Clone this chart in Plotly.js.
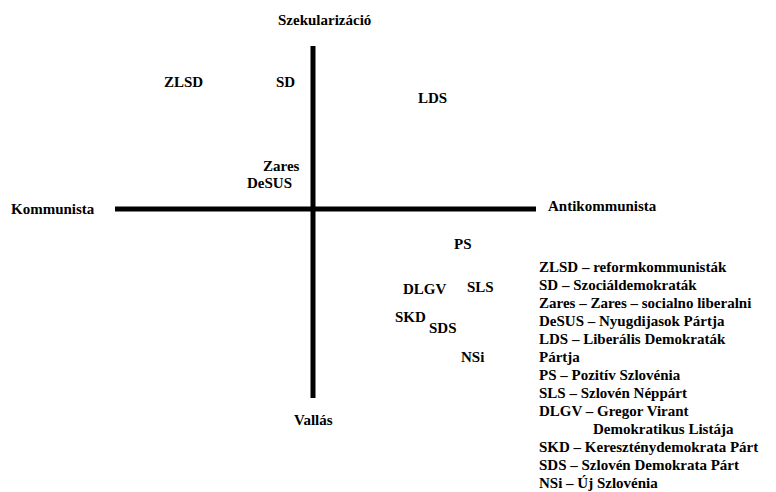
<!DOCTYPE html>
<html>
<head>
<meta charset="utf-8">
<script src="https://cdn.plot.ly/plotly-3.0.1.min.js"></script>
<style>html,body{margin:0;padding:0;background:#fff;}#chart{width:776px;height:492px;}</style>
</head>
<body>
<div id="chart"></div>
<script>
// Parties and their positions (x: Kommunista(-) .. Antikommunista(+), y: Vallás(-) .. Szekularizáció(+))
var parties = ["ZLSD", "SD", "LDS", "Zares", "DeSUS", "PS", "DLGV", "SLS", "SKD", "SDS", "NSi"];
var partyX  = [-6.5, -1.4, 5.95, -1.6, -2.2, 7.5, 5.6, 8.35, 4.85, 6.5, 7.95];
var partyY  = [6.35, 6.35, 5.55, 2.15, 1.3, -1.75, -4.0, -3.9, -5.4, -5.95, -7.4];

// Axis extents
var axisXExtent = [-9.9, 11.15];
var axisYExtent = [-9.45, 8.15];

// Pole labels
var poleLabels = ["Szekularizáció", "Kommunista", "Antikommunista", "Vallás"];
var poleX = [0.55, -13.0, 14.45, 0.0];
var poleY = [9.45, 0.0, 0.15, -10.55];

// Legend lines
var legendLines = [
  "ZLSD – reformkommunisták",
  "SD – Szociáldemokraták",
  "Zares – Zares – socialno liberalni",
  "DeSUS – Nyugdijasok Pártja",
  "LDS – Liberális Demokraták",
  "Pártja",
  "PS – Pozitív Szlovénia",
  "SLS – Szlovén Néppárt",
  "DLGV – Gregor Virant",
  "Demokratikus Listája",
  "SKD – Kereszténydemokrata Párt",
  "SDS – Szlovén Demokrata Párt",
  "NSi – Új Szlovénia"
];
var legendIndented = [false,false,false,false,false,false,false,false,false,true,false,false,false];

var FONT = "Liberation Serif";

var traces = [
  {x: axisXExtent, y: [0, 0], mode: "lines", line: {color: "#000", width: 5}, hoverinfo: "skip", showlegend: false},
  {x: [0, 0], y: axisYExtent, mode: "lines", line: {color: "#000", width: 5}, hoverinfo: "skip", showlegend: false}
];

var annotations = [];
parties.forEach(function(p, i){
  annotations.push({x: partyX[i], y: partyY[i], xref: "x", yref: "y", showarrow: false,
    text: "<b>" + p + "</b>", font: {family: FONT, size: 15, color: "#000"}});
});
poleLabels.forEach(function(p, i){
  annotations.push({x: poleX[i], y: poleY[i], xref: "x", yref: "y", showarrow: false,
    text: "<b>" + p + "</b>", font: {family: FONT, size: 15, color: "#000"}});
});
var legendX = 11.2, legendTop = -2.9, legendStep = 0.9, indent = 2.7;
legendLines.forEach(function(t, i){
  annotations.push({
    x: legendX + (legendIndented[i] ? indent : 0),
    y: legendTop - i*legendStep,
    xref: "x", yref: "y", xanchor: "left", yanchor: "middle",
    text: "<b>" + t + "</b>", showarrow: false,
    font: {family: FONT, size: 15, color: "#000"}
  });
});

var layout = {
  width: 776, height: 492,
  margin: {l: 0, r: 0, t: 0, b: 0},
  paper_bgcolor: "#fff", plot_bgcolor: "#fff",
  font: {family: FONT, color: "#000"},
  xaxis: {range: [-15.65, 23.15], visible: false, fixedrange: true},
  yaxis: {range: [-14.15, 10.45], visible: false, fixedrange: true},
  annotations: annotations,
  showlegend: false
};

Plotly.newPlot("chart", traces, layout, {displayModeBar: false});
</script>
</body>
</html>
